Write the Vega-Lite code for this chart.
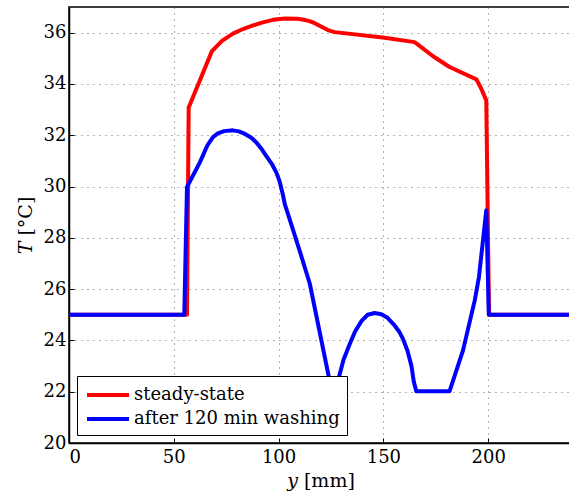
{
  "$schema": "https://vega.github.io/schema/vega-lite/v6.json",
  "autosize": "none",
  "padding": {"left": 69, "top": 7, "right": -3, "bottom": 58},
  "width": 503,
  "height": 436,
  "background": "white",
  "data": {"values": [
    {"x": 0, "T": 25, "s": "steady-state"},
    {"x": 56.3, "T": 25, "s": "steady-state"},
    {"x": 57.1, "T": 33.08, "s": "steady-state"},
    {"x": 68.2, "T": 35.28, "s": "steady-state"},
    {"x": 73, "T": 35.68, "s": "steady-state"},
    {"x": 78.2, "T": 35.96, "s": "steady-state"},
    {"x": 83, "T": 36.14, "s": "steady-state"},
    {"x": 87.8, "T": 36.28, "s": "steady-state"},
    {"x": 92.5, "T": 36.4, "s": "steady-state"},
    {"x": 97.3, "T": 36.5, "s": "steady-state"},
    {"x": 103, "T": 36.55, "s": "steady-state"},
    {"x": 109, "T": 36.54, "s": "steady-state"},
    {"x": 112, "T": 36.5, "s": "steady-state"},
    {"x": 114.8, "T": 36.45, "s": "steady-state"},
    {"x": 117.5, "T": 36.36, "s": "steady-state"},
    {"x": 120, "T": 36.25, "s": "steady-state"},
    {"x": 123.5, "T": 36.1, "s": "steady-state"},
    {"x": 126.8, "T": 36.02, "s": "steady-state"},
    {"x": 150.6, "T": 35.8, "s": "steady-state"},
    {"x": 164.9, "T": 35.63, "s": "steady-state"},
    {"x": 169, "T": 35.38, "s": "steady-state"},
    {"x": 173.7, "T": 35.08, "s": "steady-state"},
    {"x": 181.6, "T": 34.66, "s": "steady-state"},
    {"x": 194.4, "T": 34.18, "s": "steady-state"},
    {"x": 196.5, "T": 33.85, "s": "steady-state"},
    {"x": 199.1, "T": 33.36, "s": "steady-state"},
    {"x": 200.4, "T": 25, "s": "steady-state"},
    {"x": 240, "T": 25, "s": "steady-state"},
    {"x": 0, "T": 25, "s": "after 120 min washing"},
    {"x": 55, "T": 25, "s": "after 120 min washing"},
    {"x": 56.3, "T": 29.98, "s": "after 120 min washing"},
    {"x": 62.5, "T": 30.95, "s": "after 120 min washing"},
    {"x": 66, "T": 31.6, "s": "after 120 min washing"},
    {"x": 68.7, "T": 31.93, "s": "after 120 min washing"},
    {"x": 71, "T": 32.07, "s": "after 120 min washing"},
    {"x": 74, "T": 32.16, "s": "after 120 min washing"},
    {"x": 78.2, "T": 32.19, "s": "after 120 min washing"},
    {"x": 81, "T": 32.15, "s": "after 120 min washing"},
    {"x": 84, "T": 32.05, "s": "after 120 min washing"},
    {"x": 87, "T": 31.9, "s": "after 120 min washing"},
    {"x": 89.4, "T": 31.72, "s": "after 120 min washing"},
    {"x": 92, "T": 31.45, "s": "after 120 min washing"},
    {"x": 94.5, "T": 31.15, "s": "after 120 min washing"},
    {"x": 97, "T": 30.85, "s": "after 120 min washing"},
    {"x": 98.9, "T": 30.55, "s": "after 120 min washing"},
    {"x": 100.5, "T": 30.2, "s": "after 120 min washing"},
    {"x": 102, "T": 29.7, "s": "after 120 min washing"},
    {"x": 103, "T": 29.3, "s": "after 120 min washing"},
    {"x": 105, "T": 28.8, "s": "after 120 min washing"},
    {"x": 110, "T": 27.51, "s": "after 120 min washing"},
    {"x": 114.9, "T": 26.21, "s": "after 120 min washing"},
    {"x": 124, "T": 22.57, "s": "after 120 min washing"},
    {"x": 126.3, "T": 21.9, "s": "after 120 min washing"},
    {"x": 128.8, "T": 22.57, "s": "after 120 min washing"},
    {"x": 131, "T": 23.25, "s": "after 120 min washing"},
    {"x": 133.9, "T": 23.85, "s": "after 120 min washing"},
    {"x": 136.5, "T": 24.35, "s": "after 120 min washing"},
    {"x": 139.5, "T": 24.75, "s": "after 120 min washing"},
    {"x": 142.5, "T": 25.0, "s": "after 120 min washing"},
    {"x": 145.8, "T": 25.07, "s": "after 120 min washing"},
    {"x": 149, "T": 25.02, "s": "after 120 min washing"},
    {"x": 152, "T": 24.88, "s": "after 120 min washing"},
    {"x": 155, "T": 24.62, "s": "after 120 min washing"},
    {"x": 157.5, "T": 24.35, "s": "after 120 min washing"},
    {"x": 159.4, "T": 24.05, "s": "after 120 min washing"},
    {"x": 161.5, "T": 23.6, "s": "after 120 min washing"},
    {"x": 163.4, "T": 23.0, "s": "after 120 min washing"},
    {"x": 164.5, "T": 22.4, "s": "after 120 min washing"},
    {"x": 165.7, "T": 22.02, "s": "after 120 min washing"},
    {"x": 181.6, "T": 22.02, "s": "after 120 min washing"},
    {"x": 188, "T": 23.61, "s": "after 120 min washing"},
    {"x": 193.6, "T": 25.56, "s": "after 120 min washing"},
    {"x": 195.6, "T": 26.47, "s": "after 120 min washing"},
    {"x": 199.1, "T": 29.07, "s": "after 120 min washing"},
    {"x": 200.3, "T": 25, "s": "after 120 min washing"},
    {"x": 240, "T": 25, "s": "after 120 min washing"}
  ]},
  "mark": {"type": "line", "strokeWidth": 4, "clip": true, "strokeJoin": "round"},
  "encoding": {
    "x": {"field": "x", "type": "quantitative",
      "scale": {"domain": [0, 240], "nice": false, "zero": false},
      "axis": {"values": [0, 50, 100, 150, 200], "title": "𝑦 [mm]", "titlePadding": 5}},
    "y": {"field": "T", "type": "quantitative",
      "scale": {"domain": [20, 37], "nice": false, "zero": false},
      "axis": {"values": [20, 22, 24, 26, 28, 30, 32, 34, 36], "title": "𝑇 [°C]", "titlePadding": 8, "labelPadding": 8}},
    "color": {"field": "s", "type": "nominal",
      "scale": {"domain": ["steady-state", "after 120 min washing"], "range": ["#ff0000", "#0000ff"]},
      "legend": {"title": null, "orient": "bottom-left", "offset": 8, "symbolType": "M-0.9,0H3.3", "symbolStrokeWidth": 4, "symbolSize": 400, "labelFont": "DejaVu Serif", "labelFontSize": 18, "labelColor": "black", "strokeColor": "black", "fillColor": "white", "padding": 7, "labelOffset": 26, "rowPadding": 3, "labelLimit": 400}},
    "order": {"field": "x", "type": "quantitative"}
  },
  "config": {
    "view": {"stroke": "black", "strokeWidth": 1.5},
    "axis": {
      "labelFont": "DejaVu Serif", "labelFontSize": 18, "labelColor": "black",
      "titleFont": "DejaVu Serif", "titleFontSize": 19, "titleFontWeight": "normal", "titleColor": "black",
      "domainColor": "black", "domainWidth": 1.5,
      "tickColor": "black", "tickSize": -5, "tickWidth": 1,
      "labelPadding": 10,
      "grid": true, "gridColor": "#666666", "gridDash": [1, 5], "gridWidth": 1
    }
  }
}
